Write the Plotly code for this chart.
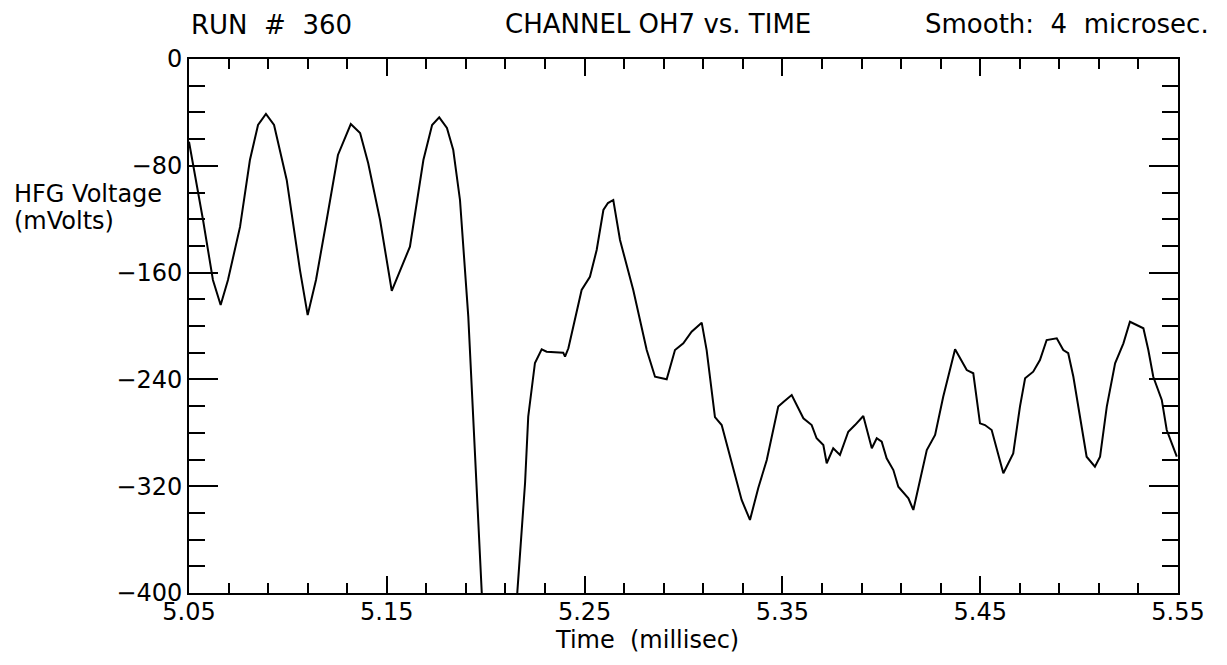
import plotly.graph_objects as go

# ---- data (time in millisec, voltage in mV) ----
time_ms = [
    5.0500, 5.0571, 5.0621, 5.0660, 5.0697, 5.0758, 5.0808, 5.0849, 5.0889, 5.0930,
    5.0994, 5.1061, 5.1100, 5.1142, 5.1196, 5.1253, 5.1318, 5.1365, 5.1406, 5.1466,
    5.1525, 5.1567, 5.1617, 5.1685, 5.1729, 5.1765, 5.1804, 5.1836, 5.1870, 5.1912,
    5.1929, 5.1955, 5.1980, 5.1995, 5.2070, 5.2148, 5.2160, 5.2199, 5.2215, 5.2249,
    5.2283, 5.2308, 5.2392, 5.2401, 5.2418, 5.2443, 5.2485, 5.2527, 5.2561, 5.2595,
    5.2618, 5.2645, 5.2679, 5.2746, 5.2814, 5.2856, 5.2915, 5.2957, 5.2999, 5.3041,
    5.3092, 5.3117, 5.3159, 5.3193, 5.3226, 5.3260, 5.3294, 5.3336, 5.3378, 5.3421,
    5.3479, 5.3505, 5.3547, 5.3606, 5.3648, 5.3673, 5.3707, 5.3724, 5.3757, 5.3791,
    5.3833, 5.3867, 5.3909, 5.3952, 5.3977, 5.4002, 5.4027, 5.4061, 5.4086, 5.4137,
    5.4162, 5.4196, 5.4230, 5.4272, 5.4313, 5.4373, 5.4432, 5.4465, 5.4499, 5.4524,
    5.4558, 5.4617, 5.4667, 5.4701, 5.4727, 5.4768, 5.4802, 5.4836, 5.4887, 5.4920,
    5.4945, 5.4971, 5.5005, 5.5038, 5.5080, 5.5106, 5.5140, 5.5182, 5.5224, 5.5257,
    5.5325, 5.5350, 5.5375, 5.5418, 5.5443, 5.5494,
]
voltage_mv = [
    -62.0, -120.6, -165.5, -184.3, -165.5, -125.8, -75.7, -49.4, -41.2, -49.4,
    -90.6, -158.1, -191.8, -165.5, -120.6, -71.9, -48.7, -55.4, -78.1, -120.6,
    -173.6, -158.1, -140.6, -75.7, -49.4, -43.7, -51.7, -68.2, -105.6, -193.0,
    -242.7, -317.6, -399.0, -445.0, -480.0, -435.0, -399.0, -317.6, -267.9, -227.7,
    -217.5, -219.3, -220.0, -223.0, -216.7, -200.5, -173.0, -163.1, -143.1, -113.1,
    -107.9, -105.6, -135.6, -173.0, -218.0, -238.0, -239.9, -218.0, -213.0, -204.3,
    -197.5, -218.0, -268.2, -274.2, -292.9, -312.9, -330.3, -345.3, -321.3, -300.4,
    -260.4, -256.9, -251.7, -269.1, -274.2, -284.1, -289.1, -302.8, -291.6, -296.6,
    -279.2, -274.2, -267.4, -291.6, -284.1, -286.7, -299.1, -307.9, -320.4, -329.1,
    -337.8, -315.4, -292.9, -281.6, -253.0, -217.5, -233.0, -235.4, -272.9, -274.2,
    -277.9, -310.3, -295.4, -260.4, -239.2, -234.2, -225.5, -210.5, -209.2, -218.0,
    -220.4, -238.0, -267.9, -297.9, -305.4, -297.9, -260.4, -227.9, -213.0, -196.8,
    -201.7, -218.0, -238.0, -255.4, -277.9, -297.9,
]

x_range = [5.05, 5.55]
y_range = [-400, 0]

title_left = "RUN  #  360"
title_mid = "CHANNEL OH7 vs. TIME"
title_right = "Smooth:  4  microsec."
ylab1 = "HFG Voltage"
ylab2 = "(mVolts)"
xlab = "Time  (millisec)"

# ---- layout geometry (pixels in the 1227x665 page) ----
OFF = 8                      # default body margin of the html page
W, H = 1227 - 2 * OFF, 665 - 2 * OFF
L, R, T, B = 189 - OFF, 1178 - OFF, 59 - OFF, 593 - OFF
FONT = "DejaVu Sans"


def px(xp):
    return (xp - OFF - L) / (R - L)


def py(yp):
    return (B - (yp - OFF)) / (B - T)


fig = go.Figure()
fig.add_trace(go.Scatter(
    x=time_ms, y=voltage_mv, mode="lines",
    line=dict(color="black", width=2), showlegend=False, hoverinfo="skip",
))

axis_common = dict(
    showline=True, linecolor="black", linewidth=2, mirror="ticks",
    ticks="inside", tickcolor="black", tickwidth=2,
    showgrid=False, zeroline=False,
)

fig.update_xaxes(
    range=x_range, tickmode="linear", tick0=5.05, dtick=0.1, ticklen=17,
    tickformat=".2f", ticklabelstandoff=-4,
    tickfont=dict(family=FONT, size=24, color="black"),
    minor=dict(tickmode="linear", tick0=5.05, dtick=0.02, ticks="inside",
               ticklen=10, tickwidth=2, tickcolor="black", showgrid=False),
    **axis_common,
)
fig.update_yaxes(
    range=y_range, tickmode="linear", tick0=0, dtick=80, ticklen=29,
    tickfont=dict(family=FONT, size=24, color="black"),
    minor=dict(tickmode="linear", tick0=0, dtick=20, ticks="inside",
               ticklen=16, tickwidth=2, tickcolor="black", showgrid=False),
    **axis_common,
)

tf = dict(family=FONT, size=26, color="black")
tf_small = dict(family=FONT, size=24, color="black")
ann = [
    dict(text=title_left, x=px(271), y=py(25), xanchor="center", yanchor="middle", font=tf),
    dict(text=title_mid, x=px(658), y=py(24), xanchor="center", yanchor="middle", font=tf),
    dict(text=title_right, x=px(1067), y=py(24), xanchor="center", yanchor="middle", font=tf),
    dict(text=ylab1, x=px(12), y=py(194), xanchor="left", yanchor="middle", font=tf_small),
    dict(text=ylab2, x=px(12), y=py(221), xanchor="left", yanchor="middle", font=tf_small),
    dict(text=xlab, x=px(647), y=py(640), xanchor="center", yanchor="middle", font=tf_small),
]
for a in ann:
    a.update(xref="paper", yref="paper", showarrow=False)

fig.update_layout(
    width=W, height=H, autosize=False,
    margin=dict(l=L, r=W - R, t=T, b=H - B, pad=0),
    paper_bgcolor="white", plot_bgcolor="white",
    annotations=ann,
)

fig.write_html("out.html")
